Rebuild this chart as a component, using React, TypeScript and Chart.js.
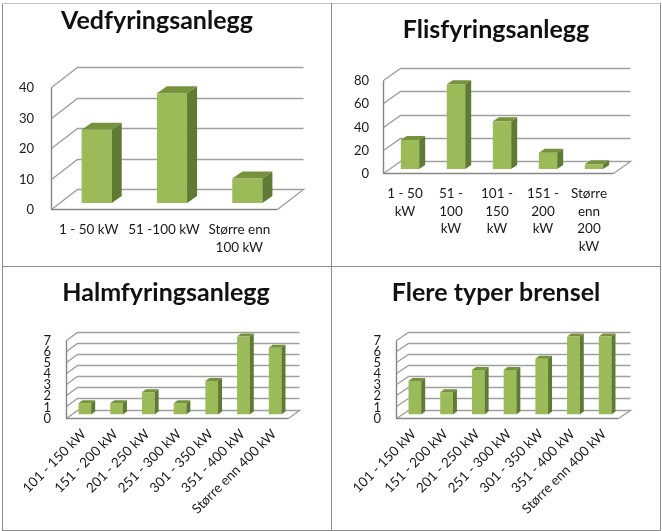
import React, { useEffect, useRef } from "react";
import { Chart, registerables } from "chart.js";

Chart.register(...registerables);

const vedCategories = ["1 - 50 kW", "51 -100 kW", ["Større enn", "100 kW"]];
const vedValues = [24, 36, 8];
const vedTicks = { max: 40, step: 10 };

const flisCategories = [["1 - 50", "kW"], ["51 -", "100", "kW"], ["101 -", "150", "kW"], ["151 -", "200", "kW"], ["Større", "enn", "200", "kW"]];
const flisValues = [25, 73, 41, 14, 4];
const flisTicks = { max: 80, step: 20 };

const sizeCategories = ["101 - 150 kW", "151 - 200 kW", "201 - 250 kW", "251 - 300 kW", "301 - 350 kW", "351 - 400 kW", "Større enn 400 kW"];
const halmValues = [1, 1, 2, 1, 3, 7, 6];
const flereValues = [3, 2, 4, 4, 5, 7, 7];
const countTicks = { max: 7, step: 1 };

const FONT = "Lato, Carlito, 'Open Sans', sans-serif";
const FRONT = "#9bbb59";
const TOP = "#76923c";
const SIDE = "#5f7a32";
const GRID = "#a0a0a0";
const AXIS = "#868686";

const depth3d = {
  id: "depth3d",
  beforeDraw(chart: any) {
    chart.scales.y.left = 0;
  },
  beforeDatasetsDraw(chart: any, _a: any, o: any) {
    const { ctx, chartArea: a, scales } = chart;
    const y = scales.y;
    const x0 = a.left - o.offDx;
    const x1 = a.right - o.offDx;
    ctx.save();
    ctx.lineWidth = 1.4;
    ctx.strokeStyle = GRID;
    y.ticks.forEach((t: any) => {
      const py = Math.round(y.getPixelForValue(t.value)) + o.offDy;
      ctx.beginPath();
      ctx.moveTo(x0 + 0.5, py + 0.5);
      ctx.lineTo(x0 + o.backDx + 0.5, py - o.backDy + 0.5);
      ctx.lineTo(x1 + o.backDx + 0.5, py - o.backDy + 0.5);
      if (t.value === 0) ctx.lineTo(x1 + 0.5, py + 0.5);
      ctx.stroke();
    });
    ctx.strokeStyle = AXIS;
    const base = Math.round(y.getPixelForValue(0)) + o.offDy;
    const top = Math.round(y.getPixelForValue(y.max)) + o.offDy;
    ctx.beginPath();
    ctx.moveTo(x0 + 0.5, top + 0.5);
    ctx.lineTo(x0 + 0.5, base + 0.5);
    ctx.lineTo(x1 + 0.5, base + 0.5);
    ctx.stroke();
    ctx.restore();
  },
  afterDatasetsDraw(chart: any, _a: any, o: any) {
    const { ctx } = chart;
    ctx.save();
    chart.getDatasetMeta(0).data.forEach((b: any) => {
      const l = b.x - b.width / 2;
      const r = b.x + b.width / 2;
      ctx.fillStyle = TOP;
      ctx.beginPath();
      ctx.moveTo(l, b.y);
      ctx.lineTo(l + o.sideDx, b.y - o.sideDy);
      ctx.lineTo(r + o.sideDx, b.y - o.sideDy);
      ctx.lineTo(r, b.y);
      ctx.closePath();
      ctx.fill();
      ctx.fillStyle = SIDE;
      ctx.beginPath();
      ctx.moveTo(r, b.y);
      ctx.lineTo(r + o.sideDx, b.y - o.sideDy);
      ctx.lineTo(r + o.sideDx, b.base - o.sideDy);
      ctx.lineTo(r, b.base);
      ctx.closePath();
      ctx.fill();
    });
    ctx.restore();
  },
};

type Frame = {
  box: { left: number; top: number; width: number; height: number };
  area: { left: number; right: number; top: number; bottom: number };
  depth: { offDx: number; offDy: number; backDx: number; backDy: number; sideDx: number; sideDy: number };
  titleCenter: number;
  titleSize: number;
  titleTop: number;
  yPad: number;
  yOffset: number;
  xPad: number;
  xOffset: number;
  rotation: number;
};

function Panel({ title, labels, values, ticks, frame }: any) {
  const ref = useRef<HTMLCanvasElement>(null);
  useEffect(() => {
    const f: Frame = frame;
    const lineH = Math.round(f.titleSize * 1.2);
    const padLeft = 2 * f.titleCenter - f.area.right;
    const chart = new Chart(ref.current as HTMLCanvasElement, {
      type: "bar",
      data: {
        labels,
        datasets: [{ data: values, backgroundColor: FRONT, borderWidth: 0, categoryPercentage: 0.4, barPercentage: 1 }],
      },
      plugins: [depth3d],
      options: {
        responsive: false,
        animation: false,
        layout: { autoPadding: false, padding: { top: 0, left: padLeft, bottom: 0, right: f.box.width - f.area.right } },
        plugins: {
          legend: { display: false },
          tooltip: { enabled: false },
          title: {
            display: true,
            text: title,
            color: "#111111",
            font: { family: FONT, size: f.titleSize, weight: "bold", lineHeight: 1.2 },
            padding: { top: f.titleTop, bottom: f.area.top - f.titleTop - lineH },
          },
          depth3d: f.depth,
        },
        scales: {
          x: {
            grid: { display: false },
            border: { display: false },
            afterFit: (s: any) => { s.height = f.box.height - f.area.bottom; },
            ticks: {
              autoSkip: false,
              minRotation: f.rotation,
              maxRotation: f.rotation,
              color: "#1a1a1a",
              padding: f.xPad,
              labelOffset: f.xOffset,
              font: { family: FONT, size: 13.5, lineHeight: 1.3 },
            },
          },
          y: {
            min: 0,
            max: ticks.max,
            grid: { display: false },
            border: { display: false },
            afterFit: (s: any) => { s.width = f.area.left - padLeft; },
            ticks: {
              autoSkip: false,
              stepSize: ticks.step,
              color: "#1a1a1a",
              padding: f.yPad,
              labelOffset: f.yOffset,
              font: { family: FONT, size: 13 },
            },
          },
        },
      } as any,
    });
    return () => chart.destroy();
  }, []);
  const b = frame.box;
  return <canvas ref={ref} width={b.width} height={b.height} style={{ position: "absolute", left: b.left, top: b.top, display: "block" }} />;
}

const frameVed: Frame = {
  box: { left: 0, top: 0, width: 314, height: 264 },
  area: { left: 59, right: 285, top: 81, bottom: 203 },
  depth: { offDx: 8, offDy: 6, backDx: 26, backDy: 20, sideDx: 10, sideDy: 7 },
  titleCenter: 157, titleSize: 25, titleTop: 6, yPad: 17, yOffset: 7, xPad: 10, xOffset: -8, rotation: 0,
};
const frameFlis: Frame = {
  box: { left: 333, top: 0, width: 327, height: 264 },
  area: { left: 54, right: 284, top: 76, bottom: 169 },
  depth: { offDx: 4, offDy: 4, backDx: 17, backDy: 12, sideDx: 6, sideDy: 4 },
  titleCenter: 163, titleSize: 25, titleTop: 15, yPad: 10, yOffset: 5, xPad: 8, xOffset: -5, rotation: 0,
};
const frameHalm: Frame = {
  box: { left: 0, top: 268, width: 331, height: 262 },
  area: { left: 69, right: 291, top: 68.5, bottom: 146.5 },
  depth: { offDx: 3, offDy: 3, backDx: 11, backDy: 8, sideDx: 4, sideDy: 3 },
  titleCenter: 166, titleSize: 25, titleTop: 10, yPad: 10, yOffset: 4, xPad: 3, xOffset: -1, rotation: 45,
};
const frameFlere: Frame = {
  box: { left: 333, top: 268, width: 327, height: 262 },
  area: { left: 66, right: 288, top: 68.5, bottom: 146.5 },
  depth: { offDx: 3, offDy: 3, backDx: 12, backDy: 8, sideDx: 4, sideDy: 3 },
  titleCenter: 163, titleSize: 25, titleTop: 10, yPad: 10, yOffset: 4, xPad: 3, xOffset: -1, rotation: 45,
};

const line = (s: any) => <div style={{ position: "absolute", background: "#8c8c8c", ...s }} />;

export default function App() {
  useEffect(() => {
    document.body.style.margin = "0";
    document.body.style.background = "#ffffff";
  }, []);
  return (
    <div style={{ position: "relative", width: 662, height: 531, overflow: "hidden", background: "#fff" }}>
      <Panel title="Vedfyringsanlegg" labels={vedCategories} values={vedValues} ticks={vedTicks} frame={frameVed} />
      <Panel title="Flisfyringsanlegg" labels={flisCategories} values={flisValues} ticks={flisTicks} frame={frameFlis} />
      <Panel title="Halmfyringsanlegg" labels={sizeCategories} values={halmValues} ticks={countTicks} frame={frameHalm} />
      <Panel title="Flere typer brensel" labels={sizeCategories} values={flereValues} ticks={countTicks} frame={frameFlere} />
      {line({ left: 2, top: 3, width: 1, height: 527 })}
      {line({ left: 2, top: 3, width: 658, height: 1, background: "#c4c4c4" })}
      {line({ left: 331, top: 3, width: 1, height: 527 })}
      {line({ left: 2, top: 266, width: 658, height: 1 })}
      {line({ left: 660, top: 3, width: 1, height: 528 })}
      {line({ left: 2, top: 530, width: 659, height: 1 })}
    </div>
  );
}
